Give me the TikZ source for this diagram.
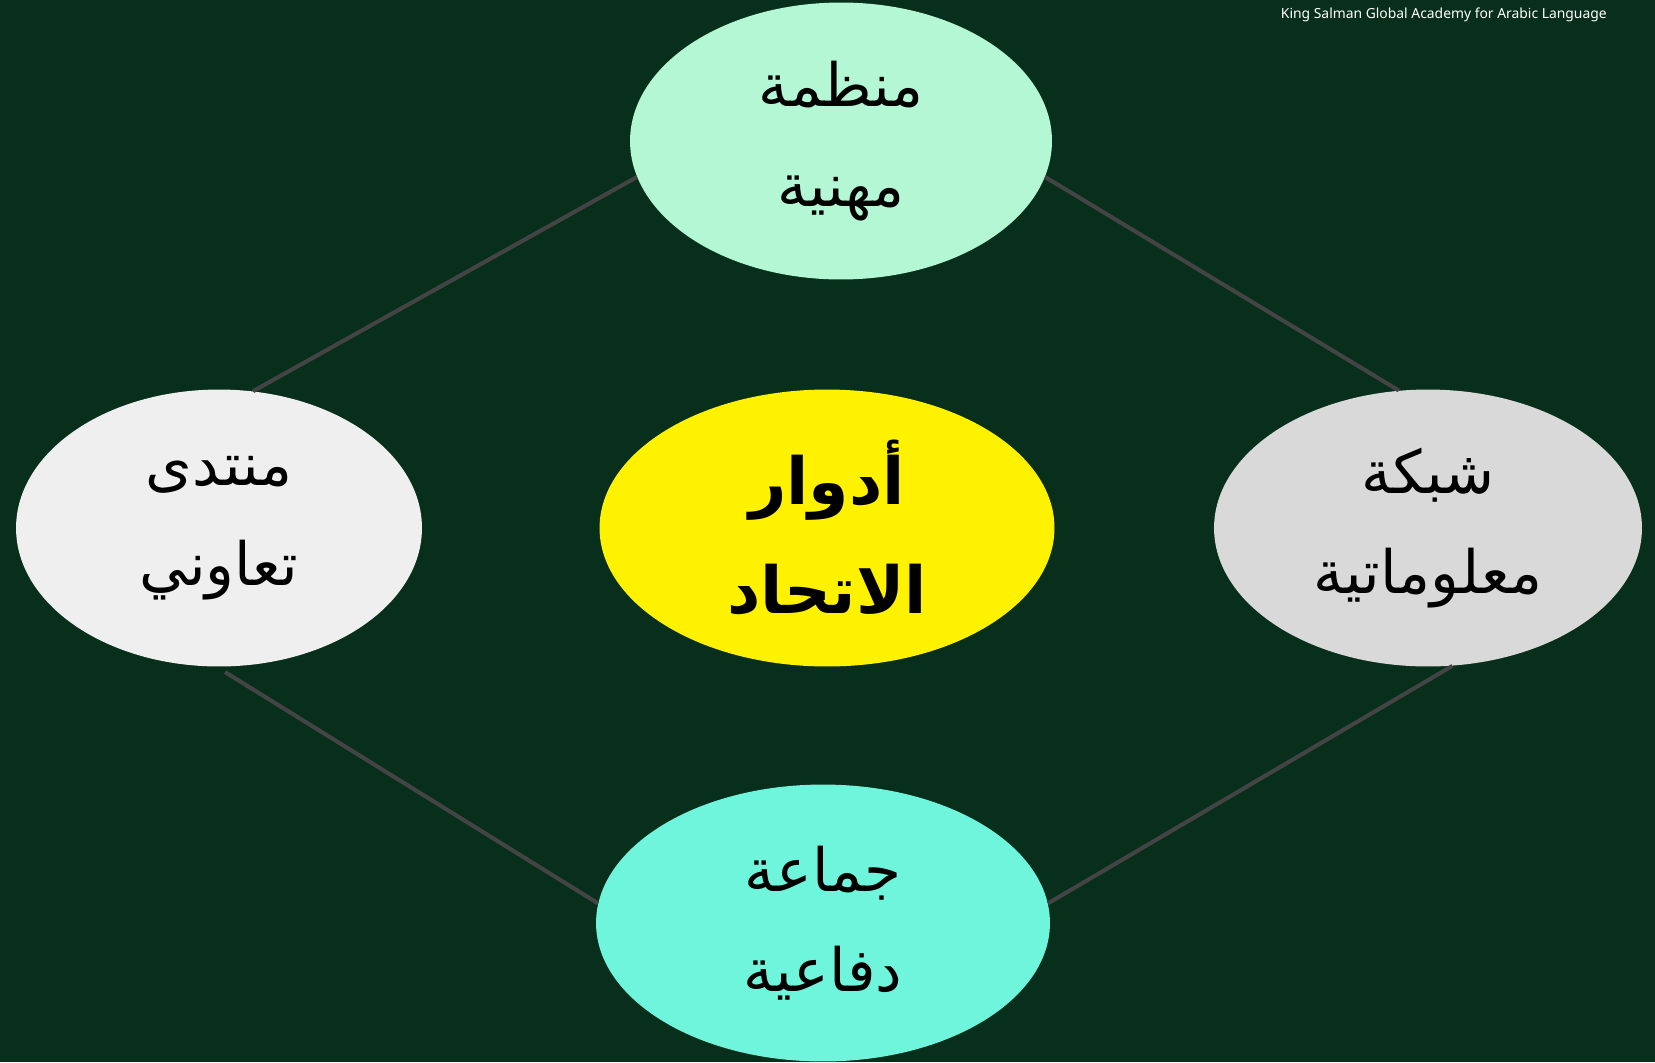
\documentclass[tikz,border=0pt]{standalone}
\usepackage{fontspec}
\setmainfont{Noto Sans}
\newfontfamily\arabicfont[Script=Arabic]{DejaVu Sans}
\TeXXeTstate=1
\usetikzlibrary{shapes.geometric}
\usetikzlibrary{positioning}

\definecolor{bgGreen}{RGB}{8,47,27}
\definecolor{linkGray}{RGB}{68,68,68}
\definecolor{mintTop}{RGB}{179,247,212}
\definecolor{greyLeft}{RGB}{239,239,239}
\definecolor{greyRight}{RGB}{217,217,217}
\definecolor{aquaBottom}{RGB}{111,245,220}

\begin{document}
\begin{tikzpicture}[x=0.02cm,y=-0.02cm]
\tikzset{
role/.style = {ellipse,
               minimum width=8.44cm,
               minimum height=5.54cm,
               inner sep=0pt,
               align=center,
               font=\arabicfont\fontsize{34}{57}\selectfont},
hub/.style = {role,
              fill=yellow,
              minimum width=9.1cm,
              font=\arabicfont\bfseries\fontsize{37}{62}\selectfont},
link/.style = {draw=linkGray,
               line width=2.3pt}
}

\fill[bgGreen] (0,0) rectangle (1655,1062);

\node[role,fill=mintTop]    at (841,141)  (org)   {\beginR منظمة\endR\\\beginR مهنية\endR};
\node[role,fill=greyLeft,minimum width=8.12cm]  at (219,528) (forum) {\beginR منتدى\endR\\\beginR تعاوني\endR};
\node[hub]                  at (827,528)  (union) {\beginR أدوار\endR\\\beginR الاتحاد\endR};
\node[role,fill=greyRight,minimum width=8.56cm] at (1428,528) (net)   {\beginR شبكة\endR\\\beginR معلوماتية\endR};
\node[role,fill=aquaBottom,minimum width=9.08cm] at (823,923) (group) {\beginR جماعة\endR\\\beginR دفاعية\endR};

\node[anchor=east,inner sep=0pt,text=white,font=\bfseries\fontsize{7.9}{10}\selectfont] at (1607,15) (academy) {King Salman Global Academy for Arabic Language};

\draw[link] (org.190) edge (forum.76)
            (org.350) edge (net.102)
            (forum.269) edge[shorten <=0.2cm] (group.175)
            (net.280) edge (group.5);
\end{tikzpicture}
\end{document}
